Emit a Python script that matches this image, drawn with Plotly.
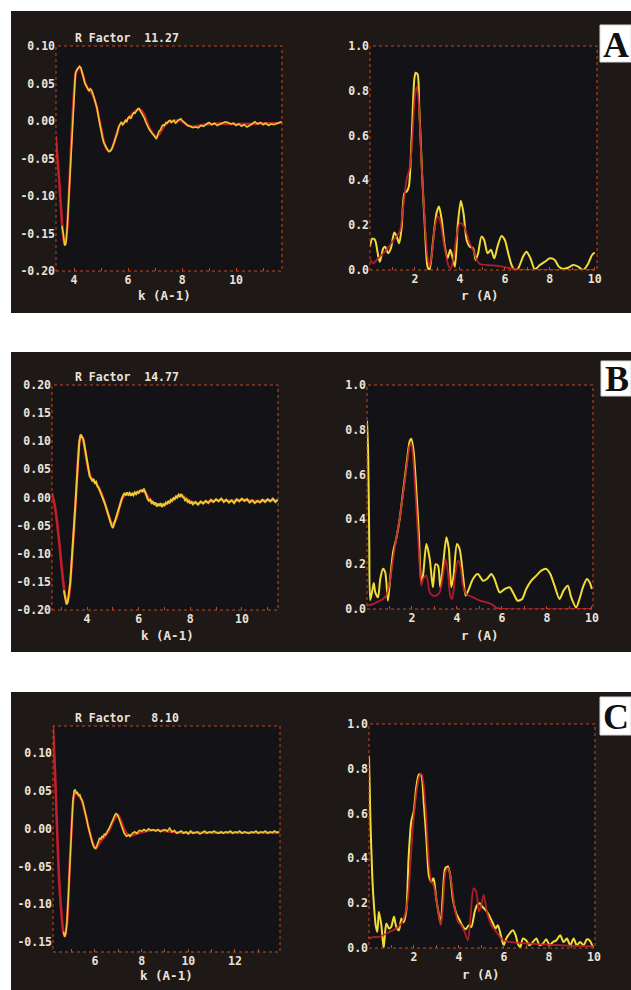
import plotly.graph_objects as go

W, H = 631, 990

# ---------------- DATA ----------------
# Panel A : chi(k) fit (red) and data (yellow)
kA_fit = [3.32, 3.45, 3.55, 3.62, 3.68, 3.75, 3.85, 3.95, 4.05, 4.15,
          4.22, 4.30, 4.40, 4.50, 4.60, 4.70, 4.80, 4.90, 5.00, 5.10,
          5.20, 5.30, 5.40, 5.50, 5.60, 5.70, 5.85, 6.00, 6.15, 6.30,
          6.45, 6.60, 6.75, 6.90, 7.05, 7.20, 7.35, 7.50, 7.70, 7.90,
          8.10, 8.30, 8.50, 8.80, 9.10, 9.40, 9.70, 10.0, 10.3, 10.6,
          10.9, 11.2, 11.5, 11.7]
chiA_fit = [-0.020, -0.080, -0.135, -0.160, -0.165, -0.140, -0.064, 0.010, 0.060, 0.070,
            0.071, 0.064, 0.052, 0.044, 0.040, 0.034, 0.024, 0.008, -0.010, -0.027,
            -0.037, -0.040, -0.037, -0.027, -0.014, -0.005, -0.002, 0.003, 0.009, 0.014,
            0.015, 0.008, -0.006, -0.016, -0.021, -0.015, -0.006, -0.001, 0.000, 0.001,
            -0.003, -0.007, -0.007, -0.005, -0.004, -0.003, -0.004, -0.004, -0.004, -0.004,
            -0.003, -0.003, -0.003, -0.002]
kA_dat = [3.55, 3.60, 3.65, 3.70, 3.75, 3.80, 3.85, 3.90, 3.95, 4.00,
          4.05, 4.10, 4.15, 4.20, 4.25, 4.30, 4.35, 4.40, 4.45, 4.50,
          4.55, 4.60, 4.65, 4.70, 4.75, 4.80, 4.85, 4.90, 4.95, 5.00,
          5.05, 5.10, 5.15, 5.20, 5.25, 5.30, 5.35, 5.40, 5.45, 5.50,
          5.55, 5.60, 5.65, 5.70, 5.75, 5.80, 5.85, 5.90, 5.95, 6.00,
          6.05, 6.10, 6.15, 6.20, 6.25, 6.30, 6.35, 6.40, 6.45, 6.50,
          6.55, 6.60, 6.65, 6.70, 6.75, 6.80, 6.85, 6.90, 6.95, 7.00,
          7.05, 7.10, 7.15, 7.20, 7.25, 7.30, 7.35, 7.40, 7.45, 7.50,
          7.55, 7.60, 7.65, 7.70, 7.75, 7.80, 7.85, 7.90, 7.95, 8.00,
          8.10, 8.20, 8.30, 8.40, 8.50, 8.60, 8.70, 8.80, 8.90, 9.00,
          9.10, 9.20, 9.30, 9.40, 9.50, 9.60, 9.70, 9.80, 9.90, 10.0,
          10.1, 10.2, 10.3, 10.4, 10.5, 10.6, 10.7, 10.8, 10.9, 11.0,
          11.1, 11.2, 11.3, 11.4, 11.5, 11.6, 11.7]
chiA_dat = [-0.140, -0.150, -0.166, -0.163, -0.140, -0.105, -0.065, -0.030, 0.005, 0.045,
            0.064, 0.068, 0.070, 0.073, 0.071, 0.062, 0.058, 0.050, 0.046, 0.042,
            0.040, 0.043, 0.041, 0.036, 0.030, 0.024, 0.017, 0.006, -0.005, -0.012,
            -0.022, -0.029, -0.033, -0.036, -0.039, -0.041, -0.040, -0.037, -0.032, -0.026,
            -0.020, -0.016, -0.008, -0.004, -0.001, -0.005, -0.003, 0.001, -0.001, 0.004,
            0.006, 0.003, 0.008, 0.011, 0.010, 0.013, 0.016, 0.017, 0.014, 0.011,
            0.007, 0.004, -0.001, -0.006, -0.009, -0.012, -0.015, -0.017, -0.019, -0.021,
            -0.024, -0.018, -0.013, -0.012, -0.007, -0.005, -0.006, -0.002, -0.003, 0.000,
            0.001, -0.002, -0.001, 0.001, -0.003, -0.002, 0.001, 0.002, 0.003, 0.001,
            -0.003, -0.006, -0.007, -0.009, -0.008, -0.009, -0.006, -0.007, -0.004, -0.002,
            -0.005, -0.003, -0.006, -0.004, -0.002, -0.001, -0.002, -0.004, -0.003, -0.006,
            -0.004, -0.007, -0.005, -0.008, -0.006, -0.003, -0.001, -0.004, -0.002, -0.005,
            -0.003, -0.006, -0.004, -0.005, -0.003, -0.002, -0.001]
# Panel A : |FT| fit and data
rA_fit = [0.00, 0.15, 0.30, 0.44, 0.67, 0.89, 1.11, 1.33, 1.48, 1.63,
          1.78, 1.88, 2.00, 2.09, 2.18, 2.30, 2.44, 2.56, 2.64, 2.74,
          2.89, 3.01, 3.11, 3.26, 3.41, 3.51, 3.60, 3.70, 3.85, 4.00,
          4.15, 4.30, 4.44, 4.59, 4.74, 4.89, 5.26, 5.70, 6.15, 6.59,
          7.20, 10.0]
ftA_fit = [0.045, 0.030, 0.045, 0.060, 0.082, 0.112, 0.142, 0.172, 0.284, 0.403,
           0.463, 0.580, 0.776, 0.820, 0.730, 0.463, 0.209, 0.060, 0.015, 0.060,
           0.194, 0.239, 0.224, 0.134, 0.052, 0.015, 0.007, 0.045, 0.149, 0.209,
           0.200, 0.164, 0.119, 0.090, 0.045, 0.027, 0.022, 0.018, 0.010, 0.003,
           0.000, 0.000]
rA_dat = [0.00, 0.10, 0.22, 0.37, 0.44, 0.59, 0.67, 0.81, 0.93, 1.08,
          1.19, 1.30, 1.41, 1.53, 1.63, 1.73, 1.85, 1.97, 2.03, 2.12,
          2.19, 2.33, 2.44, 2.56, 2.65, 2.81, 2.96, 3.07, 3.19, 3.33,
          3.45, 3.57, 3.66, 3.78, 3.90, 4.04, 4.16, 4.30, 4.44, 4.59,
          4.70, 4.81, 4.96, 5.08, 5.23, 5.38, 5.53, 5.67, 5.85, 6.00,
          6.15, 6.30, 6.44, 6.59, 6.81, 6.96, 7.14, 7.33, 7.56, 7.78,
          8.00, 8.22, 8.40, 8.59, 8.81, 9.04, 9.26, 9.48, 9.70, 9.88,
          10.0]
ftA_dat = [0.104, 0.140, 0.134, 0.060, 0.037, 0.097, 0.104, 0.075, 0.097, 0.167,
           0.149, 0.119, 0.194, 0.343, 0.350, 0.373, 0.582, 0.851, 0.881, 0.873,
           0.730, 0.403, 0.194, 0.015, 0.000, 0.134, 0.254, 0.284, 0.224, 0.104,
           0.052, 0.090, 0.060, 0.015, 0.194, 0.309, 0.254, 0.134, 0.104, 0.097,
           0.045, 0.075, 0.149, 0.134, 0.075, 0.090, 0.052, 0.104, 0.152, 0.134,
           0.075, 0.022, 0.000, 0.007, 0.060, 0.082, 0.052, 0.003, 0.022, 0.037,
           0.052, 0.045, 0.015, 0.005, 0.010, 0.022, 0.015, 0.000, 0.027, 0.067,
           0.078]

# Panel B : chi(k)
kB_fit = [2.64, 2.75, 2.85, 2.95, 3.05, 3.15, 3.22, 3.30, 3.40, 3.50,
          3.60, 3.68, 3.75, 3.85, 3.95, 4.05, 4.15, 4.25, 4.35, 4.45,
          4.55, 4.65, 4.75, 4.85, 4.95, 5.05, 5.15, 5.25, 5.35, 5.50,
          5.70, 5.90, 6.10, 6.25, 6.40, 6.60, 6.80, 7.00, 7.20, 7.45,
          7.65, 7.85, 8.05, 8.30, 8.60, 8.90, 9.20, 9.50, 9.80, 10.1,
          10.4, 10.7, 11.0, 11.4]
chiB_fit = [0.008, -0.015, -0.050, -0.093, -0.140, -0.175, -0.185, -0.175, -0.120, -0.050,
            0.025, 0.090, 0.110, 0.103, 0.075, 0.050, 0.036, 0.030, 0.025, 0.018,
            0.008, -0.005, -0.020, -0.034, -0.046, -0.045, -0.036, -0.018, -0.002, 0.005,
            0.005, 0.008, 0.011, 0.010, -0.002, -0.010, -0.013, -0.013, -0.008, 0.001,
            0.005, -0.002, -0.008, -0.010, -0.008, -0.006, -0.004, -0.006, -0.005, -0.004,
            -0.006, -0.006, -0.005, -0.005]
kB_dat = [3.10, 3.15, 3.20, 3.25, 3.30, 3.35, 3.40, 3.45, 3.50, 3.55,
          3.60, 3.65, 3.70, 3.75, 3.80, 3.85, 3.90, 3.95, 4.00, 4.05,
          4.10, 4.15, 4.20, 4.25, 4.30, 4.35, 4.40, 4.45, 4.50, 4.55,
          4.60, 4.65, 4.70, 4.75, 4.80, 4.85, 4.90, 4.95, 5.00, 5.05,
          5.10, 5.15, 5.20, 5.25, 5.30, 5.35, 5.40, 5.45, 5.50, 5.55,
          5.60, 5.65, 5.70, 5.75, 5.80, 5.85, 5.90, 5.95, 6.00, 6.05,
          6.10, 6.15, 6.20, 6.25, 6.30, 6.35, 6.40, 6.45, 6.50, 6.55,
          6.60, 6.65, 6.70, 6.75, 6.80, 6.85, 6.90, 6.95, 7.00, 7.05,
          7.10, 7.15, 7.20, 7.25, 7.30, 7.35, 7.40, 7.45, 7.50, 7.55,
          7.60, 7.65, 7.70, 7.75, 7.80, 7.85, 7.90, 7.95, 8.00, 8.05,
          8.10, 8.20, 8.30, 8.40, 8.50, 8.60, 8.70, 8.80, 8.90, 9.00,
          9.10, 9.20, 9.30, 9.40, 9.50, 9.60, 9.70, 9.80, 9.90, 10.0,
          10.1, 10.2, 10.3, 10.4, 10.5, 10.6, 10.7, 10.8, 10.9, 11.0,
          11.1, 11.2, 11.3, 11.4]
chiB_dat = [-0.165, -0.180, -0.190, -0.186, -0.172, -0.150, -0.115, -0.085, -0.050, -0.010,
            0.030, 0.070, 0.100, 0.112, 0.108, 0.104, 0.092, 0.078, 0.062, 0.048,
            0.038, 0.034, 0.030, 0.033, 0.026, 0.028, 0.020, 0.017, 0.012, 0.006,
            0.002, -0.006, -0.012, -0.020, -0.027, -0.034, -0.042, -0.050, -0.054, -0.046,
            -0.040, -0.032, -0.024, -0.016, -0.008, -0.002, 0.004, 0.008, 0.004, 0.009,
            0.005, 0.008, 0.003, 0.007, 0.004, 0.009, 0.006, 0.010, 0.008, 0.012,
            0.013, 0.010, 0.016, 0.009, 0.003, -0.003, -0.006, -0.004, -0.010, -0.008,
            -0.013, -0.009, -0.016, -0.011, -0.015, -0.010, -0.017, -0.012, -0.014, -0.009,
            -0.012, -0.006, -0.009, -0.004, -0.006, -0.001, -0.003, 0.002, 0.000, 0.005,
            0.002, 0.006, 0.001, 0.000, -0.005, -0.003, -0.008, -0.006, -0.011, -0.007,
            -0.012, -0.008, -0.013, -0.007, -0.011, -0.006, -0.010, -0.004, -0.008, -0.003,
            -0.007, -0.002, -0.008, -0.004, -0.009, -0.005, -0.010, -0.003, -0.007, -0.002,
            -0.006, -0.003, -0.009, -0.005, -0.010, -0.006, -0.009, -0.004, -0.008, -0.003,
            -0.007, -0.002, -0.008, -0.004]
# Panel B : |FT|
rB_fit = [0.00, 0.27, 0.49, 0.71, 0.86, 1.01, 1.16, 1.30, 1.45, 1.60,
          1.75, 1.90, 1.97, 2.04, 2.19, 2.31, 2.41, 2.49, 2.64, 2.79,
          2.93, 3.08, 3.23, 3.38, 3.50, 3.60, 3.70, 3.79, 3.90, 4.04,
          4.15, 4.27, 4.41, 4.71, 5.01, 5.30, 5.53, 5.75, 6.05, 10.0]
ftB_fit = [0.015, 0.022, 0.033, 0.045, 0.060, 0.119, 0.223, 0.313, 0.402, 0.513,
           0.625, 0.730, 0.737, 0.690, 0.460, 0.253, 0.104, 0.134, 0.149, 0.074,
           0.060, 0.060, 0.074, 0.149, 0.223, 0.164, 0.060, 0.045, 0.134, 0.216,
           0.193, 0.104, 0.067, 0.052, 0.037, 0.030, 0.022, 0.005, 0.000, 0.000]
rB_dat = [0.00, 0.05, 0.10, 0.14, 0.22, 0.30, 0.37, 0.49, 0.59, 0.71,
          0.81, 0.93, 1.00, 1.16, 1.30, 1.45, 1.60, 1.75, 1.90, 1.97,
          2.07, 2.19, 2.31, 2.41, 2.49, 2.64, 2.79, 2.93, 3.05, 3.16,
          3.26, 3.38, 3.53, 3.64, 3.75, 3.85, 4.00, 4.12, 4.27, 4.39,
          4.53, 4.71, 4.93, 5.16, 5.33, 5.53, 5.67, 5.90, 6.12, 6.34,
          6.49, 6.70, 6.90, 7.08, 7.30, 7.53, 7.75, 7.97, 8.15, 8.34,
          8.56, 8.74, 8.93, 9.08, 9.30, 9.45, 9.60, 9.78, 9.90, 10.0]
ftB_dat = [0.840, 0.700, 0.300, 0.040, 0.074, 0.116, 0.074, 0.052, 0.134, 0.180,
           0.164, 0.037, 0.104, 0.253, 0.313, 0.400, 0.520, 0.640, 0.750, 0.760,
           0.707, 0.536, 0.327, 0.119, 0.149, 0.290, 0.223, 0.097, 0.200, 0.193,
           0.097, 0.194, 0.320, 0.268, 0.097, 0.149, 0.290, 0.268, 0.149, 0.060,
           0.089, 0.134, 0.156, 0.126, 0.134, 0.156, 0.134, 0.074, 0.089, 0.097,
           0.074, 0.037, 0.045, 0.089, 0.126, 0.149, 0.171, 0.179, 0.156, 0.104,
           0.045, 0.082, 0.104, 0.052, 0.007, 0.045, 0.097, 0.134, 0.119, 0.089]

# Panel C : chi(k)
kC_fit = [4.20, 4.28, 4.36, 4.45, 4.55, 4.65, 4.72, 4.80, 4.90, 5.00,
          5.08, 5.15, 5.25, 5.35, 5.45, 5.55, 5.65, 5.80, 5.95, 6.05,
          6.15, 6.30, 6.45, 6.60, 6.75, 6.90, 7.00, 7.10, 7.20, 7.35,
          7.50, 7.65, 7.85, 8.10, 8.40, 8.70, 9.00, 9.30, 9.60, 9.90,
          10.2, 10.6, 11.0, 11.4, 11.8, 12.2, 12.6, 13.0, 13.4, 13.9]
chiC_fit = [0.136, 0.080, 0.012, -0.060, -0.108, -0.138, -0.142, -0.125, -0.060, 0.005,
            0.040, 0.048, 0.046, 0.042, 0.036, 0.024, 0.012, -0.008, -0.022, -0.026,
            -0.021, -0.014, -0.009, -0.002, 0.008, 0.016, 0.018, 0.012, 0.003, -0.006,
            -0.009, -0.008, -0.006, -0.004, -0.002, -0.002, -0.003, -0.004, -0.005, -0.005,
            -0.005, -0.005, -0.005, -0.005, -0.005, -0.005, -0.005, -0.005, -0.005, -0.005]
kC_dat = [4.65, 4.70, 4.75, 4.80, 4.85, 4.90, 4.95, 5.00, 5.05, 5.10,
          5.15, 5.20, 5.25, 5.30, 5.35, 5.40, 5.45, 5.50, 5.55, 5.60,
          5.65, 5.70, 5.75, 5.80, 5.85, 5.90, 5.95, 6.00, 6.05, 6.10,
          6.15, 6.20, 6.25, 6.30, 6.35, 6.40, 6.45, 6.50, 6.55, 6.60,
          6.65, 6.70, 6.75, 6.80, 6.85, 6.90, 6.95, 7.00, 7.05, 7.10,
          7.15, 7.20, 7.25, 7.30, 7.35, 7.40, 7.45, 7.50, 7.55, 7.60,
          7.70, 7.80, 7.90, 8.00, 8.10, 8.20, 8.30, 8.40, 8.50, 8.60,
          8.70, 8.80, 8.90, 9.00, 9.10, 9.20, 9.30, 9.40, 9.50, 9.60,
          9.70, 9.80, 9.90, 10.0, 10.1, 10.2, 10.3, 10.4, 10.5, 10.6,
          10.7, 10.8, 10.9, 11.0, 11.1, 11.2, 11.3, 11.4, 11.5, 11.6,
          11.7, 11.8, 11.9, 12.0, 12.1, 12.2, 12.3, 12.4, 12.5, 12.6,
          12.7, 12.8, 12.9, 13.0, 13.1, 13.2, 13.3, 13.4, 13.5, 13.6,
          13.7, 13.8, 13.9]
chiC_dat = [-0.136, -0.143, -0.138, -0.122, -0.095, -0.060, -0.028, 0.005, 0.035, 0.050,
            0.052, 0.047, 0.048, 0.044, 0.045, 0.040, 0.038, 0.032, 0.026, 0.020,
            0.012, 0.004, -0.003, -0.009, -0.015, -0.020, -0.024, -0.026, -0.025, -0.020,
            -0.017, -0.012, -0.014, -0.010, -0.011, -0.007, -0.008, -0.004, -0.002, 0.000,
            0.004, 0.007, 0.011, 0.015, 0.018, 0.020, 0.019, 0.016, 0.011, 0.006,
            0.002, -0.003, -0.006, -0.008, -0.010, -0.009, -0.008, -0.010, -0.007, -0.006,
            -0.004, -0.006, -0.002, -0.003, -0.001, -0.003, 0.000, -0.002, -0.001, -0.003,
            -0.001, -0.004, -0.002, -0.001, -0.003, 0.001, -0.004, -0.002, -0.006, -0.004,
            -0.003, -0.006, -0.004, -0.007, -0.003, -0.006, -0.005, -0.004, -0.007, -0.005,
            -0.003, -0.006, -0.004, -0.005, -0.003, -0.005, -0.006, -0.004, -0.006, -0.004,
            -0.005, -0.003, -0.006, -0.004, -0.005, -0.003, -0.006, -0.004, -0.005, -0.006,
            -0.004, -0.005, -0.003, -0.006, -0.004, -0.005, -0.003, -0.006, -0.004, -0.005,
            -0.003, -0.005, -0.004]
# Panel C : |FT|
rC_fit = [0.00, 0.18, 0.40, 0.62, 0.92, 1.21, 1.44, 1.59, 1.73, 1.84,
          1.96, 2.10, 2.22, 2.33, 2.43, 2.55, 2.65, 2.77, 2.87, 2.99,
          3.10, 3.19, 3.29, 3.41, 3.53, 3.66, 3.81, 3.96, 4.10, 4.25,
          4.40, 4.52, 4.65, 4.77, 4.89, 4.99, 5.10, 5.24, 5.44, 5.66,
          5.88, 6.10, 6.55, 7.14, 7.88, 8.62, 10.0]
ftC_fit = [0.042, 0.049, 0.049, 0.057, 0.072, 0.087, 0.109, 0.147, 0.222, 0.371,
           0.551, 0.686, 0.760, 0.778, 0.731, 0.581, 0.401, 0.296, 0.281, 0.222,
           0.147, 0.102, 0.192, 0.341, 0.356, 0.296, 0.177, 0.117, 0.102, 0.072,
           0.034, 0.147, 0.266, 0.251, 0.162, 0.190, 0.237, 0.162, 0.102, 0.072,
           0.042, 0.030, 0.024, 0.020, 0.015, 0.012, 0.007]
rC_dat = [0.00, 0.06, 0.15, 0.22, 0.30, 0.37, 0.44, 0.55, 0.65, 0.77,
          0.89, 0.99, 1.11, 1.21, 1.33, 1.44, 1.54, 1.66, 1.76, 1.88,
          1.99, 2.10, 2.22, 2.33, 2.43, 2.55, 2.67, 2.77, 2.87, 2.99,
          3.11, 3.19, 3.29, 3.39, 3.51, 3.61, 3.73, 3.88, 4.03, 4.18,
          4.30, 4.44, 4.55, 4.70, 4.80, 4.92, 5.04, 5.19, 5.33, 5.48,
          5.63, 5.73, 5.88, 5.99, 6.10, 6.25, 6.40, 6.52, 6.62, 6.73,
          6.84, 6.99, 7.14, 7.29, 7.44, 7.59, 7.73, 7.88, 8.03, 8.18,
          8.33, 8.50, 8.65, 8.80, 8.95, 9.10, 9.24, 9.39, 9.54, 9.69,
          9.81, 9.96]
ftC_dat = [0.858, 0.580, 0.310, 0.190, 0.100, 0.072, 0.162, 0.100, 0.000, 0.109,
           0.087, 0.095, 0.139, 0.095, 0.079, 0.132, 0.114, 0.169, 0.401, 0.566,
           0.610, 0.716, 0.775, 0.768, 0.656, 0.490, 0.319, 0.296, 0.311, 0.220,
           0.147, 0.109, 0.251, 0.356, 0.364, 0.326, 0.220, 0.154, 0.124, 0.094,
           0.084, 0.102, 0.094, 0.162, 0.190, 0.200, 0.184, 0.169, 0.147, 0.117,
           0.087, 0.102, 0.049, 0.012, 0.042, 0.064, 0.079, 0.057, 0.019, 0.004,
           0.042, 0.034, 0.012, 0.027, 0.042, 0.012, 0.019, 0.039, 0.012, 0.027,
           0.034, 0.057, 0.027, 0.042, 0.012, 0.042, 0.012, 0.027, 0.012, 0.039,
           0.034, 0.004]

r_factors = ["11.27", "14.77", "8.10"]
panel_letters = ["A", "B", "C"]
k_title = "k (A-1)"
r_title = "r (A)"

chi_ticks_A = [-0.20, -0.15, -0.10, -0.05, 0.00, 0.05, 0.10]
chi_ticks_B = [-0.20, -0.15, -0.10, -0.05, 0.00, 0.05, 0.10, 0.15, 0.20]
chi_ticks_C = [-0.15, -0.10, -0.05, 0.00, 0.05, 0.10]
ft_ticks = [0.0, 0.2, 0.4, 0.6, 0.8, 1.0]
k_ticks_AB = [4, 6, 8, 10]
k_ticks_C = [6, 8, 10, 12]
r_ticks = [2, 4, 6, 8, 10]

# ---------------- STYLE / LAYOUT ----------------
RED = "#c21f2b"
YEL = "#f3dd35"
TXT = "#ebe3da"
FRAME = "#c24a22"
PANEL = "#1e1916"
INNER = "#131317"
MONO = "DejaVu Sans Mono"


def dx(x0, x1):
    return [x0 / W, x1 / W]


def dy(y0, y1):
    return [1 - y1 / H, 1 - y0 / H]


def fmt(v, d):
    return f"{v:.{d}f}"


plots = [
    dict(box=(56, 282, 46, 271), xr=[3.33, 11.7], yr=[-0.20, 0.10], xt=k_ticks_AB, yt=chi_ticks_A, d=2,
         fit=(kA_fit, chiA_fit), dat=(kA_dat, chiA_dat), kind="k", title=(164, 295)),
    dict(box=(370, 597, 46, 270), xr=[0, 10.1], yr=[0, 1.0], xt=r_ticks, yt=ft_ticks, d=1,
         fit=(rA_fit, ftA_fit), dat=(rA_dat, ftA_dat), kind="r", title=(480, 295)),
    dict(box=(52, 278, 385, 610), xr=[2.64, 11.4], yr=[-0.20, 0.20], xt=k_ticks_AB, yt=chi_ticks_B, d=2,
         fit=(kB_fit, chiB_fit), dat=(kB_dat, chiB_dat), kind="k", title=(167, 635)),
    dict(box=(367, 593, 385, 609), xr=[0, 10.05], yr=[0, 1.0], xt=r_ticks, yt=ft_ticks, d=1,
         fit=(rB_fit, ftB_fit), dat=(rB_dat, ftB_dat), kind="r", title=(480, 635)),
    dict(box=(53, 280, 726, 952), xr=[4.2, 13.93], yr=[-0.163, 0.136], xt=k_ticks_C, yt=chi_ticks_C, d=2,
         fit=(kC_fit, chiC_fit), dat=(kC_dat, chiC_dat), kind="k", title=(166, 975)),
    dict(box=(369, 595, 724, 948), xr=[0, 10.05], yr=[0, 1.0], xt=r_ticks, yt=ft_ticks, d=1,
         fit=(rC_fit, ftC_fit), dat=(rC_dat, ftC_dat), kind="r", title=(481, 974)),
]

panels = [(11, 313), (352, 652), (692, 990)]
rfac_pos = [(73, 38), (73, 377), (73, 718)]
letter_box = [(600, 25, 62), (601, 361, 396), (600, 697, 735)]

fig = go.Figure()
shapes = []
annotations = []
layout = {}

for (y0, y1) in panels:
    shapes.append(dict(type="rect", xref="paper", yref="paper", x0=11 / W, x1=1,
                       y0=1 - y1 / H, y1=1 - y0 / H, fillcolor=PANEL, line=dict(width=0),
                       layer="below"))

for i, p in enumerate(plots):
    n = i + 1
    xa = "x" if n == 1 else f"x{n}"
    ya = "y" if n == 1 else f"y{n}"
    x0, x1, y0, y1 = p["box"]
    tickfont = dict(family=MONO, size=11.5, color=TXT, weight="bold")
    layout[f"xaxis{'' if n == 1 else n}"] = dict(
        domain=dx(x0, x1), range=p["xr"], anchor=ya, showgrid=False, zeroline=False,
        showline=False, automargin=False, tickmode="array", tickvals=p["xt"],
        ticktext=[str(v) for v in p["xt"]],
        ticks="inside", ticklen=3, tickcolor=FRAME, tickfont=tickfont,
        minor=dict(tickmode="linear", tick0=0, dtick=1, ticks="inside", ticklen=3, tickcolor=FRAME),
    )
    layout[f"yaxis{'' if n == 1 else n}"] = dict(
        domain=dy(y0, y1), range=p["yr"], anchor=xa, showgrid=False, zeroline=False,
        showline=False, automargin=False, tickmode="array", tickvals=p["yt"],
        ticktext=[fmt(v, p["d"]) for v in p["yt"]], ticks="", tickfont=tickfont,
    )
    shapes.append(dict(type="rect", xref=f"{xa} domain", yref=f"{ya} domain", x0=0, x1=1, y0=0, y1=1,
                       fillcolor=INNER, line=dict(width=0), layer="below"))
    shapes.append(dict(type="rect", xref=f"{xa} domain", yref=f"{ya} domain", x0=0, x1=1, y0=0, y1=1,
                       fillcolor="rgba(0,0,0,0)", line=dict(color=FRAME, width=1, dash="dot"),
                       layer="above"))
    fx, fy = p["fit"]
    ddx, ddy = p["dat"]
    nf = min(len(fx), len(fy))
    nd = min(len(ddx), len(ddy))
    if p["kind"] == "k":
        fig.add_trace(go.Scatter(x=fx[:nf], y=fy[:nf], xaxis=xa, yaxis=ya, mode="lines",
                                 line=dict(color=RED, width=2.6, shape="spline", smoothing=0.6),
                                 showlegend=False, hoverinfo="skip"))
        fig.add_trace(go.Scatter(x=ddx[:nd], y=ddy[:nd], xaxis=xa, yaxis=ya, mode="lines",
                                 line=dict(color=YEL, width=1.6 if n != 3 else 2.0),
                                 opacity=0.9, showlegend=False, hoverinfo="skip"))
    else:
        fig.add_trace(go.Scatter(x=ddx[:nd], y=ddy[:nd], xaxis=xa, yaxis=ya, mode="lines",
                                 line=dict(color=YEL, width=2.0, shape="spline", smoothing=0.7),
                                 showlegend=False, hoverinfo="skip"))
        fig.add_trace(go.Scatter(x=fx[:nf], y=fy[:nf], xaxis=xa, yaxis=ya, mode="lines",
                                 line=dict(color=RED, width=1.8, shape="spline", smoothing=0.7),
                                 opacity=0.9, showlegend=False, hoverinfo="skip"))
    tx, ty = p["title"]
    annotations.append(dict(text=k_title if p["kind"] == "k" else r_title, x=tx / W, y=1 - ty / H,
                            xref="paper", yref="paper", showarrow=False, xanchor="center", yanchor="middle",
                            font=dict(family=MONO, size=12.5, color=TXT, weight="bold")))

for j, rf in enumerate(r_factors):
    x, y = rfac_pos[j]
    annotations.append(dict(text="R Factor\u00a0\u00a0" + ("\u00a0" if len(rf) < 5 else "") + rf,
                            x=x / W, y=1 - y / H, xref="paper", yref="paper", showarrow=False,
                            xanchor="left", yanchor="middle",
                            font=dict(family=MONO, size=11.5, color=TXT, weight="bold")))

for j, letter in enumerate(panel_letters):
    lx, ly0, ly1 = letter_box[j]
    shapes.append(dict(type="rect", xref="paper", yref="paper", x0=lx / W, x1=1,
                       y0=1 - ly1 / H, y1=1 - ly0 / H, fillcolor="#ffffff",
                       line=dict(color="#d8d8d8", width=1), layer="above"))
    annotations.append(dict(text=letter, x=(lx + 15.5) / W, y=1 - ((ly0 + ly1) / 2 + 1) / H,
                            xref="paper", yref="paper",
                            showarrow=False, xanchor="center", yanchor="middle",
                            font=dict(family="Liberation Serif", size=36, color="#111111", weight="bold")))

fig.update_layout(
    width=W, height=H, margin=dict(l=0, r=0, t=0, b=0, pad=0), autosize=False,
    paper_bgcolor="#ffffff", plot_bgcolor="rgba(0,0,0,0)",
    shapes=shapes, annotations=annotations, showlegend=False,
    **layout,
)

post = ("document.documentElement.style.margin='0';document.documentElement.style.overflow='hidden';"
        "document.body.style.margin='0';document.body.style.padding='0';document.body.style.overflow='hidden';"
        "var gd=document.getElementById('{plot_id}');gd.style.position='fixed';gd.style.top='0px';gd.style.left='0px';")

fig.write_html("out.html", config={"displayModeBar": False, "responsive": False}, post_script=post)
